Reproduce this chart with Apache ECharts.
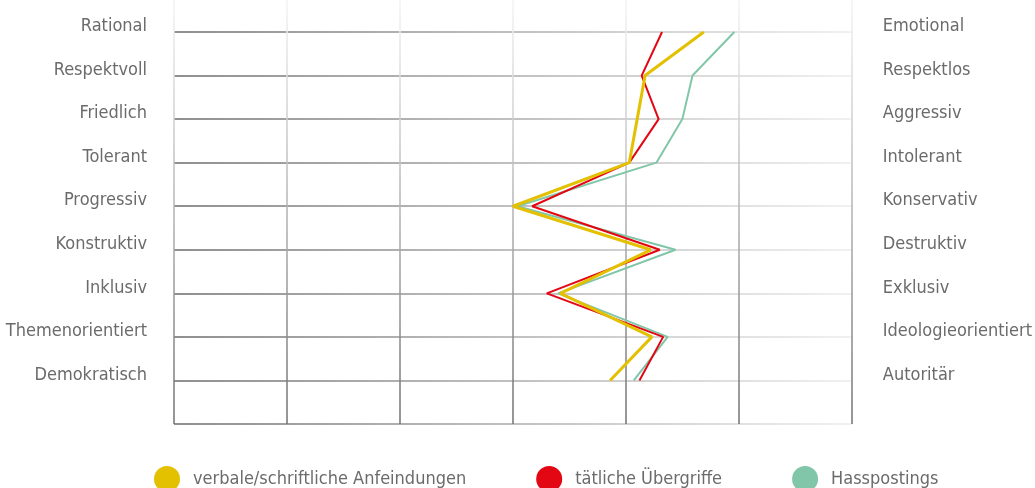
<!DOCTYPE html>
<html>
<head>
<meta charset="utf-8">
<script src="https://cdn.jsdelivr.net/npm/echarts@6/dist/echarts.min.js"></script>
<style>
  html, body { margin: 0; padding: 0; background: #fff; }
  #main { width: 1035px; height: 488px; }
</style>
</head>
<body>
<div id="main"></div>
<script>
// Gegensatzpaare (links / rechts)
var leftLabels = ['Rational', 'Respektvoll', 'Friedlich', 'Tolerant', 'Progressiv',
    'Konstruktiv', 'Inklusiv', 'Themenorientiert', 'Demokratisch'];
var rightLabels = ['Emotional', 'Respektlos', 'Aggressiv', 'Intolerant', 'Konservativ',
    'Destruktiv', 'Exklusiv', 'Ideologieorientiert', 'Autoritär'];

// Werte je Zeile (Skala 0..6)
var verbal = [4.69, 4.17, 4.10, 4.03, 3.00, 4.22, 3.42, 4.23, 3.86];
var taetlich = [4.32, 4.14, 4.29, 4.03, 3.17, 4.30, 3.30, 4.33, 4.12];
var hass = [4.96, 4.59, 4.50, 4.27, 3.04, 4.44, 3.40, 4.37, 4.07];

var seriesNames = ['verbale/schriftliche Anfeindungen', 'tätliche Übergriffe', 'Hasspostings'];

var FONT = '"DejaVu Sans Condensed", "Noto Sans", sans-serif';

function toPoints(arr) {
    return arr.map(function (v, i) { return [v, i + 1]; });
}

var myChart = echarts.init(document.getElementById('main'));

// Rasterlinien mit Verlauf
var vGrad = { type: 'linear', x: 0, y: 0, x2: 0, y2: 424, global: true,
    colorStops: [{ offset: 0, color: '#f4f4f4' }, { offset: 1, color: '#707070' }] };
var hGrad = { type: 'linear', x: 174, y: 0, x2: 870, y2: 0, global: true,
    colorStops: [{ offset: 0, color: '#6a6a6a' }, { offset: 1, color: '#f0f0f0' }] };

var labelBase = {
    fontSize: 18,
    color: '#6b6b6b',
    fontFamily: FONT,
    verticalAlign: 'bottom',
    lineHeight: 11
};

var option = {
    animation: false,
    textStyle: { fontFamily: FONT },
    grid: [
        { left: 174, right: 183, top: 32, bottom: 64 },
        { left: 174, right: 183, top: 0, height: 32 }
    ],
    legend: {
        data: seriesNames,
        icon: 'circle',
        left: 154,
        top: 466,
        padding: 0,
        itemWidth: 26,
        itemHeight: 26,
        itemGap: 70,
        textStyle: { fontFamily: FONT, fontSize: 18, color: '#6b6b6b', padding: [0, 0, 0, 8] }
    },
    xAxis: [{
        type: 'value',
        gridIndex: 0,
        min: 0,
        max: 6,
        interval: 1,
        axisLine: { show: false },
        axisTick: { show: false },
        axisLabel: { show: false },
        splitLine: { lineStyle: { color: vGrad, width: 1.5 } }
    }, {
        type: 'value',
        gridIndex: 1,
        min: 0,
        max: 6,
        interval: 1,
        axisLine: { show: false },
        axisTick: { show: false },
        axisLabel: { show: false },
        splitLine: { lineStyle: { color: vGrad, width: 1.5 } }
    }],
    yAxis: [{
        type: 'value',
        gridIndex: 0,
        inverse: true,
        min: 1,
        max: 10,
        interval: 1,
        axisLine: { show: false },
        axisTick: { show: false },
        axisLabel: Object.assign({}, labelBase, {
            margin: 27,
            formatter: function (v) { return leftLabels[v - 1] || ''; }
        }),
        splitLine: { lineStyle: { color: hGrad, width: 1.5 } }
    }, {
        type: 'value',
        gridIndex: 0,
        position: 'right',
        inverse: true,
        min: 1,
        max: 10,
        interval: 1,
        axisLine: { show: false },
        axisTick: { show: false },
        axisLabel: Object.assign({}, labelBase, {
            margin: 31,
            formatter: function (v) { return rightLabels[v - 1] || ''; }
        }),
        splitLine: { show: false }
    }, {
        type: 'value',
        gridIndex: 1,
        min: 0,
        max: 1,
        show: false
    }],
    series: [
        {
            name: 'Hasspostings',
            type: 'line',
            data: toPoints(hass),
            symbol: 'none',
            color: '#82c6a9',
            lineStyle: { width: 2 },
            z: 2
        },
        {
            name: 'tätliche Übergriffe',
            type: 'line',
            data: toPoints(taetlich),
            symbol: 'none',
            color: '#e30613',
            lineStyle: { width: 2 },
            z: 3
        },
        {
            name: 'verbale/schriftliche Anfeindungen',
            type: 'line',
            data: toPoints(verbal),
            symbol: 'none',
            color: '#e3c000',
            lineStyle: { width: 3 },
            z: 4
        }
    ]
};

myChart.setOption(option);
</script>
</body>
</html>
